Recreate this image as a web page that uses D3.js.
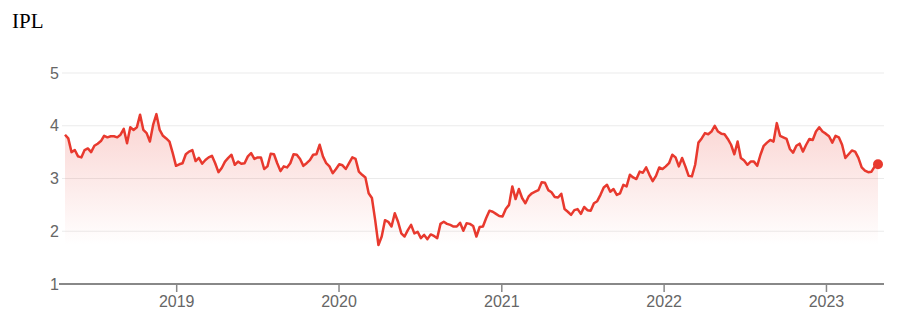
<!DOCTYPE html>
<html>
<head>
<meta charset="utf-8">
<script src="https://cdn.jsdelivr.net/npm/d3@7"></script>
<style>
  body { margin: 0; background: #fff; }
  .title { font-family: "Liberation Serif", "Times New Roman", serif; font-size: 21px; fill: #000; }
  .axis text { font-family: "Liberation Sans", Arial, sans-serif; font-size: 16px; fill: #666; }
</style>
</head>
<body>
<div id="chart"></div>
<script>
const WIDTH = 908
const HEIGHT = 324
const MARGIN = { top: 73, right: 24, bottom: 40, left: 65 }

const TITLE = 'IPL'
const START_DATE = '2018-04-26'
const END_DATE = '2023-04-28'
const Y_TICKS = [1, 2, 3, 4, 5]
const X_TICKS = ['2019-01-01', '2020-01-01', '2021-01-01', '2022-01-01', '2023-01-01']

// roughly weekly closes
const values_2018 = [3.83, 3.76, 3.50, 3.54, 3.42, 3.40, 3.54, 3.57, 3.50, 3.62, 3.66, 3.71, 3.81, 3.78, 3.80,
    3.80, 3.78, 3.83, 3.94, 3.67, 3.97, 3.92, 3.97, 4.21, 3.92, 3.86, 3.70, 4.02, 4.22, 3.92, 3.81, 3.76, 3.70,
    3.48, 3.24, 3.27, 3.29, 3.46, 3.51, 3.54, 3.33, 3.39, 3.28]
const values_2019 = [3.35, 3.40, 3.43, 3.29, 3.12, 3.20, 3.32, 3.39, 3.45, 3.26, 3.32, 3.28, 3.29, 3.42, 3.48,
    3.37, 3.40, 3.40, 3.18, 3.23, 3.47, 3.46, 3.29, 3.14, 3.23, 3.21, 3.29, 3.46, 3.45, 3.37, 3.24, 3.29, 3.35,
    3.45, 3.46, 3.64, 3.42, 3.29, 3.23, 3.10, 3.18, 3.27]
const values_2020 = [3.25, 3.18, 3.29, 3.40, 3.37, 3.13, 3.07, 3.02, 2.72, 2.63, 2.21, 1.74, 1.90, 2.21, 2.18,
    2.09, 2.34, 2.18, 1.96, 1.90, 2.02, 2.12, 1.96, 1.99, 1.87, 1.93, 1.85, 1.94, 1.91, 1.87, 2.14, 2.18, 2.14,
    2.12, 2.09, 2.09, 2.16, 2.01]
const values_2021 = [2.15, 2.14, 2.10, 1.90, 2.08, 2.09, 2.25, 2.39, 2.37, 2.33, 2.29, 2.28, 2.42, 2.50, 2.85,
    2.61, 2.80, 2.63, 2.53, 2.66, 2.72, 2.75, 2.78, 2.93, 2.92, 2.78, 2.74, 2.65, 2.64, 2.71, 2.42, 2.37, 2.31,
    2.40, 2.42, 2.33, 2.46, 2.40, 2.39, 2.53, 2.57, 2.69]
const values_2022 = [2.83, 2.88, 2.75, 2.80, 2.69, 2.72, 2.88, 2.85, 3.07, 3.02, 2.99, 3.13, 3.11, 3.21, 3.07,
    2.95, 3.05, 3.21, 3.18, 3.23, 3.29, 3.45, 3.40, 3.23, 3.39, 3.23, 3.05, 3.04, 3.26, 3.68, 3.76, 3.86, 3.84,
    3.89, 4.00, 3.89, 3.85, 3.84, 3.75, 3.64, 3.46]
const values_2023 = [3.70, 3.39, 3.34, 3.26, 3.32, 3.32, 3.24, 3.45, 3.62, 3.68, 3.73, 3.70, 4.05, 3.81, 3.78,
    3.75, 3.56, 3.49, 3.62, 3.66, 3.51, 3.64, 3.75, 3.73, 3.89, 3.97, 3.89, 3.85, 3.80, 3.68, 3.81, 3.78, 3.64,
    3.39, 3.46, 3.53, 3.51, 3.39, 3.21, 3.15, 3.12, 3.13, 3.23, 3.27]

const values = [].concat(values_2018, values_2019, values_2020, values_2021, values_2022, values_2023)
const start = new Date(START_DATE)
const end = new Date(END_DATE)
const step = (end - start) / (values.length - 1)
const data = values.map((v, i) => ({ date: new Date(+start + i * step), value: v }))

const RED = '#e8392e'

const svg = d3.select('#chart')
    .append('svg')
    .attr('width', WIDTH)
    .attr('height', HEIGHT)

svg.append('text')
    .attr('class', 'title')
    .attr('x', 12)
    .attr('y', 28)
    .text(TITLE)

const x = d3.scaleTime()
    .domain([start, end])
    .range([MARGIN.left, 878])

const y = d3.scaleLinear()
    .domain([1, 5])
    .range([284, MARGIN.top])

// gridlines
svg.append('g')
    .selectAll('line')
    .data(Y_TICKS.slice(1))
    .enter()
        .append('line')
        .attr('x1', 62)
        .attr('x2', WIDTH - MARGIN.right)
        .attr('y1', d => y(d))
        .attr('y2', d => y(d))
        .attr('stroke', '#ebebeb')
        .attr('stroke-width', 1)

// gradient under the line
const vmin = d3.min(values)
const vmax = d3.max(values)
const grad = svg.append('defs')
    .append('linearGradient')
    .attr('id', 'fade')
    .attr('gradientUnits', 'userSpaceOnUse')
    .attr('x1', 0).attr('x2', 0)
    .attr('y1', y(vmax)).attr('y2', y(vmin))
grad.append('stop').attr('offset', 0).attr('stop-color', RED).attr('stop-opacity', 0.22)
grad.append('stop').attr('offset', 1).attr('stop-color', RED).attr('stop-opacity', 0)

svg.append('path')
    .datum(data)
    .attr('fill', 'url(#fade)')
    .attr('d', d3.area()
        .x(d => x(d.date))
        .y0(y(vmin))
        .y1(d => y(d.value)))

svg.append('path')
    .datum(data)
    .attr('fill', 'none')
    .attr('stroke', RED)
    .attr('stroke-width', 2.5)
    .attr('stroke-linejoin', 'round')
    .attr('d', d3.line()
        .x(d => x(d.date))
        .y(d => y(d.value)))

const last = data[data.length - 1]
svg.append('circle')
    .attr('cx', x(last.date))
    .attr('cy', y(last.value))
    .attr('r', 5)
    .attr('fill', RED)

// y axis labels
svg.append('g')
    .attr('class', 'axis')
    .selectAll('text')
    .data(Y_TICKS)
    .enter()
        .append('text')
        .attr('x', 59)
        .attr('y', d => y(d))
        .attr('dy', '0.35em')
        .attr('text-anchor', 'end')
        .text(d => d)

// x axis
const xAxis = svg.append('g')
    .attr('class', 'axis')
    .attr('transform', `translate(0,${y(1)})`)
    .call(d3.axisBottom(x)
        .tickValues(X_TICKS.map(d => new Date(d + 'T00:00')))
        .tickFormat(d3.timeFormat('%Y'))
        .tickSize(8)
        .tickSizeOuter(0))
xAxis.select('.domain').remove()
xAxis.selectAll('.tick line').attr('stroke', '#888').attr('stroke-width', 1.5)
xAxis.selectAll('.tick text').attr('dy', 0).attr('y', 23)
xAxis.append('line')
    .attr('x1', 59)
    .attr('x2', WIDTH - MARGIN.right)
    .attr('stroke', '#888')
    .attr('stroke-width', 2)
</script>
</body>
</html>
